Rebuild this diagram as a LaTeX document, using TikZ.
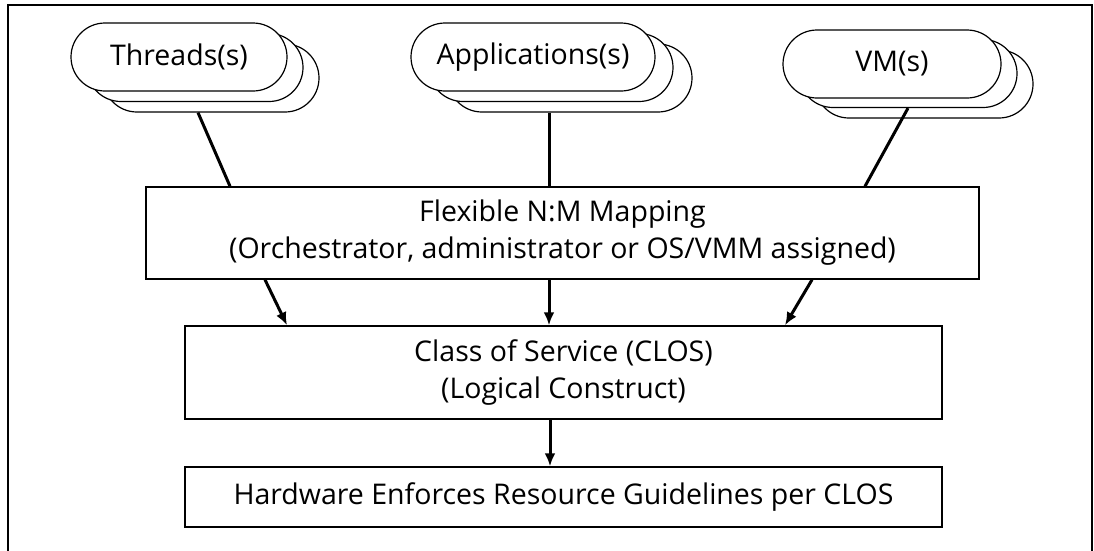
\documentclass[tikz,border=0pt]{standalone}
\usepackage{fontspec}
\setmainfont{Open Sans}
\usetikzlibrary{shapes.misc,arrows.meta,calc}
\tikzset{
  pill/.style={rounded rectangle, draw=black, line width=1.2pt, fill=white, minimum height=68pt, inner sep=0pt},
  boxn/.style={rectangle, draw=black, line width=1.5pt, fill=white, inner sep=0pt, align=center, font=\fontsize{28.5}{37}\selectfont},
  link/.style={line width=3pt, black},
  arr/.style={line width=3pt, black, -{Latex[length=13pt,width=11pt]}},
  lbl/.style={font=\fontsize{28.5}{34}\selectfont}
}
\begin{document}
\begin{tikzpicture}[x=1pt,y=-1pt]
\useasboundingbox (0,0) rectangle (1094,550);
\draw[line width=2.5pt] (8,552) -- (8,5) -- (1092,5) -- (1092,552);
% Threads stack
\node[pill, minimum width=216pt] (thr3) at (211,78) {};
\node[pill, minimum width=216pt] (thr2) at (195,67.5) {};
\node[pill, minimum width=216pt, lbl] (thr) at (179,57) {Threads(s)};
% Applications stack
\node[pill, minimum width=244pt] (app3) at (570,78) {};
\node[pill, minimum width=244pt] (app2) at (551,67.5) {};
\node[pill, minimum width=244pt, lbl] (app) at (533,57) {Applications(s)};
% VM stack
\node[pill, minimum width=218pt] (vm3) at (924,84) {};
\node[pill, minimum width=218pt] (vm2) at (908,73.5) {};
\node[pill, minimum width=218pt, lbl] (vm) at (892,64) {VM(s)};
% boxes
\node[boxn, minimum width=833pt, minimum height=92pt] (flex) at (562.5,233) {Flexible N:M Mapping\\(Orchestrator, administrator or OS/VMM assigned)};
\node[boxn, minimum width=757pt, minimum height=93pt] (clos) at (563.5,372.5) {Class of Service (CLOS)\\(Logical Construct)};
\node[boxn, minimum width=757pt, minimum height=60pt] (hw) at (563.5,497) {Hardware Enforces Resource Guidelines per CLOS};
% connectors
\draw[link] (198,0 |- thr3.south) -- (230,0 |- flex.north);
\draw[link] (549,0 |- app3.south) -- (549,0 |- flex.north);
\draw[link] (908,0 |- vm2.south) -- (865,0 |- flex.north);
\draw[arr] (265,0 |- flex.south) -- (287,0 |- clos.north);
\draw[arr] (549,0 |- flex.south) -- (549,0 |- clos.north);
\draw[arr] (812,0 |- flex.south) -- (785,0 |- clos.north);
\draw[arr] (550,0 |- clos.south) -- (550,0 |- hw.north);
\end{tikzpicture}
\end{document}
